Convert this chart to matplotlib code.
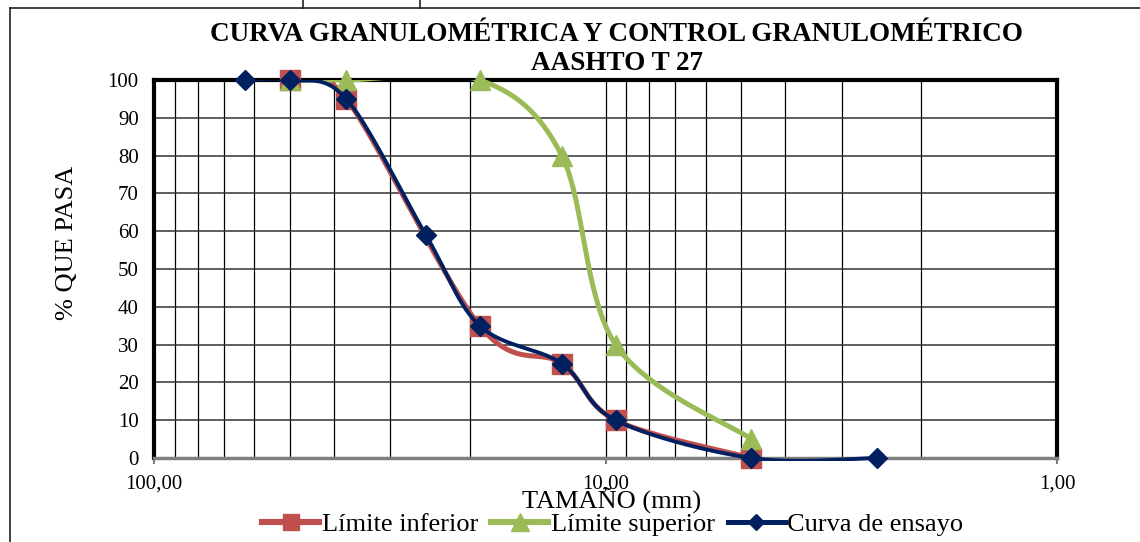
import numpy as np
import matplotlib
matplotlib.use("Agg")
import matplotlib.pyplot as plt
from matplotlib.lines import Line2D
from matplotlib.patches import Rectangle
from matplotlib.ticker import FixedLocator, LogLocator, NullFormatter

plt.rcParams['font.family'] = ['Liberation Serif', 'DejaVu Serif']

TITLE = "CURVA GRANULOMÉTRICA Y CONTROL GRANULOMÉTRICO\nAASHTO T 27"

# lower limit
inf_size = [50, 37.5, 19, 12.5, 9.5, 4.75]
inf_pass = [100, 95, 35, 25, 10, 0]

# upper limit
sup_size = [50, 37.5, 19, 12.5, 9.5, 4.75]
sup_pass = [100, 100, 100, 80, 30, 5]

# test curve
test_size = [63, 50, 37.5, 25, 19, 12.5, 9.5, 4.75, 2.5]
test_pass = [100, 100, 95, 59, 35, 25, 10, 0, 0]

x_ticks = [100, 10, 1]
x_tick_labels = ["100,00", "10,00", "1,00"]
y_ticks = list(range(0, 101, 10))

W, H = 1140, 542
fig = plt.figure(figsize=(W / 100, H / 100), dpi=100)
ax = fig.add_axes([154 / W, 1 - 458 / H, (1057 - 154) / W, (458 - 80) / H])

ax.set_xscale("log")
ax.set_xlim(100, 1)
ax.set_ylim(0, 100)


def smooth(xs, ys, n=40):
  # excel-like smoothed line, computed in screen space
  pts = ax.transData.transform(np.column_stack([xs, ys]))
  out = [pts[0]]
  for i in range(len(pts) - 1):
    p0 = pts[i - 1] if i > 0 else pts[i]
    p1 = pts[i]
    p2 = pts[i + 1]
    p3 = pts[i + 2] if i + 2 < len(pts) else pts[i + 1]
    c1 = p1 + (p2 - p0) / 6
    c2 = p2 - (p3 - p1) / 6
    t = np.linspace(0, 1, n)[1:, None]
    seg = (1 - t) ** 3 * p1 + 3 * (1 - t) ** 2 * t * c1 + 3 * (1 - t) * t ** 2 * c2 + t ** 3 * p2
    out.extend(seg)
  data = ax.transData.inverted().transform(np.array(out))
  return data[:, 0], data[:, 1]


# lines may run a little below the bottom edge, like in excel
clip = Rectangle((0, -0.008), 1, 1.008, transform=ax.transAxes, fill=False, visible=False)
ax.add_patch(clip)

series = [
  (inf_size, inf_pass, "#C0504D", "s", 14, 3.6, "Límite inferior"),
  (sup_size, sup_pass, "#9BBB59", "^", 15, 3.6, "Límite superior"),
  (test_size, test_pass, "#002060", "D", 10.5, 2.8, "Curva de ensayo"),
]

handles = []
for i, (xs, ys, color, marker, ms, lw, label) in enumerate(series):
  sx, sy = smooth(xs, ys)
  ln, = ax.plot(sx, sy, color=color, lw=lw, zorder=3 + i, solid_capstyle="round")
  ln.set_clip_path(clip)
  ax.plot(xs, ys, ls="none", marker=marker, ms=ms, color=color, zorder=3 + i, clip_on=False)
  handles.append(Line2D([], [], color=color, lw=lw + 0.8, marker=marker, ms=ms - 2.5, label=label))

ax.xaxis.set_major_locator(FixedLocator(x_ticks))
ax.xaxis.set_minor_locator(LogLocator(base=10, subs=np.arange(2, 10)))
ax.xaxis.set_minor_formatter(NullFormatter())
ax.set_xticklabels(x_tick_labels)
ax.set_yticks(y_ticks)

ax.grid(which="major", axis="y", color="#333333", lw=1.1)
ax.grid(which="both", axis="x", color="black", lw=0.9)
ax.set_axisbelow(True)

ax.tick_params(axis="x", which="major", length=4, width=1.5, color="#808080", labelsize=15, pad=8)
ax.tick_params(axis="x", which="minor", length=0)
ax.tick_params(axis="y", length=0, labelsize=15, pad=11)

for side in ["top", "left", "right"]:
  ax.spines[side].set_linewidth(3)
  ax.spines[side].set_color("black")
ax.spines["bottom"].set_linewidth(2.5)
ax.spines["bottom"].set_color("#808080")

ax.set_ylabel("% QUE PASA", fontsize=19)
ax.yaxis.set_label_coords((78 - 154) / 903, (458 - 243) / 378)
ax.set_xlabel("TAMAÑO (mm)", fontsize=19)
ax.xaxis.set_label_coords((612 - 154) / 903, (458 - 488) / 378)

fig.text(617 / W, 1 - 49 / H, TITLE, ha="center", va="center", fontsize=19.5,
         fontweight="bold", linespacing=1.22)

fig.legend(handles=handles, loc="center", bbox_to_anchor=(613 / W, 1 - 524 / H), ncol=3,
           frameon=False, fontsize=19, handlelength=2.15, handletextpad=0.1,
           columnspacing=0.5, borderaxespad=0, borderpad=0)

# outer chart border and the cell above it
border = dict(color="#222222", lw=1.2, transform=None)
fig.add_artist(Line2D([10, W], [H - 8, H - 8], **border))
fig.add_artist(Line2D([10, 10], [0, H - 8], **border))
fig.add_artist(Line2D([303, 303], [H - 8, H], **border))
fig.add_artist(Line2D([420, 420], [H - 8, H], **border))

fig.savefig("out.png", dpi=100)
